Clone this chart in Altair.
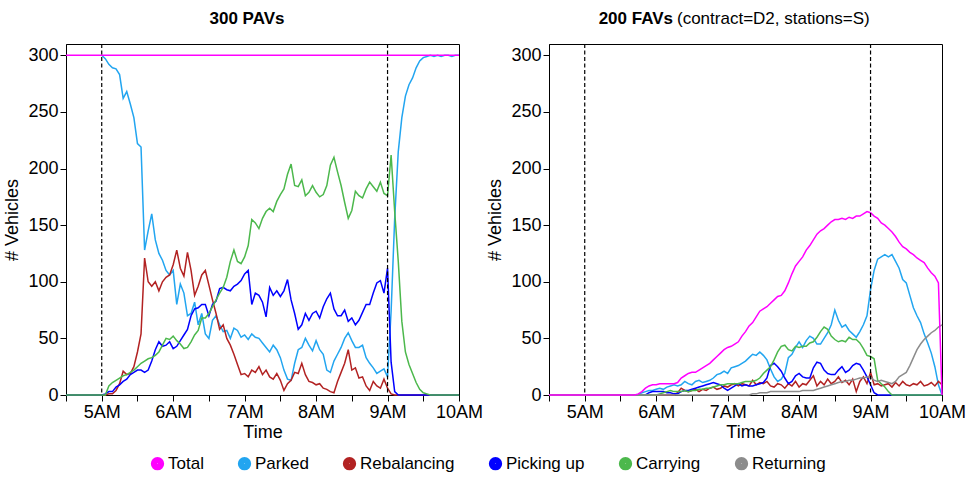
import altair as alt
import pandas as pd

FONT = "Liberation Sans"

# Sampling grid in minutes after 5AM (first entry is 4:30AM)
MINUTES = [-30] + list(range(0, 301, 3))

SERIES = ["Total", "Parked", "Rebalancing", "Picking up", "Carrying", "Returning"]
COLORS = ["#ff00ff", "#22a5f0", "#b22222", "#0000ff", "#4cb84c", "#8c8c8c"]

# ---- 300 PAVs ----
PAV_TOTAL_MINUTES = [-30, 300]
PAV_TOTAL = [300, 300]

PAV_PARKED = [
    None,
    300, 297, 292, 289, 288, 283, 262, 268, 257, 245,
    222, 219, 128, 145, 160, 137, 125, 119, 110, 106,
    110, 80, 98, 90, 70, 72, 82, 62, 72, 54,
    50, 66, 70, 62, 56, 57, 50, 59, 57, 51,
    53, 49, 54, 51, 50, 46, 42, 38, 44, 40,
    33, 22, 14, 13, 28, 40, 42, 50, 44, 39,
    48, 40, 36, 22, 20, 30, 36, 42, 50, 55,
    48, 42, 42, 44, 33, 28, 24, 19, 21, 23,
    16, 74, 156, 215, 245, 264, 274, 280, 289, 295,
    298, 299, 300, 299, 300, 299, 300, 300, 299, 300,
    300,
]

PAV_REBALANCING = [
    0,
    0, 0, 1, 1, 4, 10, 21, 18, 19, 25,
    38, 54, 121, 100, 96, 100, 92, 100, 104, 106,
    115, 128, 112, 105, 126, 110, 88, 96, 106, 110,
    97, 84, 72, 58, 62, 50, 44, 36, 27, 18,
    19, 16, 22, 20, 25, 18, 22, 16, 14, 19,
    13, 4, 10, 13, 20, 19, 28, 18, 12, 11,
    9, 10, 6, 5, 3, 2, 12, 20, 28, 40,
    22, 24, 15, 16, 8, 4, 12, 8, 6, 14,
    6, 1, 0, 0, 0, 0, 0, 0, 0, 0,
    0, 0, 0, 0, 0, 0, 0, 0, 0, 0,
    0,
]

PAV_PICKING_UP = [
    0,
    0, 1, 3, 3, 7, 9, 12, 14, 18, 20,
    22, 22, 20, 22, 30, 40, 47, 43, 44, 47,
    41, 43, 48, 53, 58, 70, 76, 77, 80, 80,
    70, 80, 83, 94, 95, 93, 92, 96, 98, 101,
    107, 110, 80, 90, 88, 82, 69, 95, 88, 92,
    87, 92, 102, 84, 72, 58, 62, 72, 66, 72,
    74, 68, 78, 85, 90, 76, 70, 70, 75, 65,
    68, 62, 66, 73, 80, 80, 90, 99, 101, 90,
    112, 29, 3, 0, 0, 0, 0, 0, 0, 0,
    0, 0, 0, 0, 0, 0, 0, 0, 0, 0,
    0,
]

PAV_CARRYING = [
    0,
    0, 0, 8, 11, 13, 15, 17, 18, 20, 22,
    25, 28, 30, 32, 33, 35, 38, 44, 50, 49,
    52, 48, 45, 41, 42, 47, 53, 57, 68, 68,
    72, 78, 84, 90, 95, 104, 118, 128, 118, 116,
    122, 132, 155, 152, 147, 156, 162, 165, 162, 171,
    177, 182, 195, 204, 185, 184, 190, 176, 179, 185,
    179, 175, 177, 185, 203, 210, 197, 185, 170, 156,
    163, 180, 176, 174, 182, 188, 184, 180, 188, 178,
    176, 212, 162, 118, 65, 38, 27, 19, 11, 5,
    2, 1, 0, 0, 0, 0, 0, 0, 0, 0,
    0,
]

# ---- 200 FAVs (contract=D2, stations=S) ----
FAV_TOTAL = [
    0,
    0, 0, 0, 0, 0, 0, 0, 0, 0, 0,
    0, 0, 0, 0, 0, 1, 3, 6, 8, 9,
    9, 10, 10, 10, 10, 10, 11, 15, 17, 19,
    20, 20, 22, 24, 26, 28, 31, 34, 37, 40,
    42, 43, 45, 47, 52, 56, 61, 64, 69, 74,
    76, 78, 81, 84, 87, 88, 92, 99, 107, 114,
    118, 122, 128, 132, 137, 142, 145, 147, 150, 153,
    155, 155, 156, 155, 157, 156, 158, 158, 160, 162,
    161, 158, 156, 152, 150, 147, 144, 140, 135, 131,
    129, 126, 124, 121, 119, 117, 112, 108, 105, 99,
    0,
]

FAV_PARKED = [
    0,
    0, 0, 0, 0, 0, 0, 0, 0, 0, 0,
    0, 0, 0, 0, 0, 0, 2, 3, 4, 4,
    5, 6, 5, 7, 8, 9, 8, 9, 12, 10,
    9, 12, 13, 11, 12, 13, 15, 18, 19, 21,
    19, 24, 25, 26, 28, 30, 33, 36, 35, 38,
    35, 31, 23, 16, 12, 14, 19, 33, 36, 42,
    47, 42, 48, 52, 50, 45, 45, 50, 55, 62,
    75, 66, 60, 62, 57, 54, 51, 56, 62, 70,
    93, 110, 120, 122, 124, 122, 124, 118, 112, 102,
    99, 88, 77, 70, 64, 54, 46, 37, 25, 9,
    0,
]

FAV_REBALANCING = [
    0,
    0, 0, 0, 0, 0, 0, 0, 0, 0, 0,
    0, 0, 0, 0, 0, 0, 0, 0, 0, 0,
    0, 0, 0, 0, 0, 0, 2, 6, 4, 3,
    4, 5, 3, 5, 4, 6, 7, 5, 6, 8,
    7, 9, 10, 8, 10, 9, 8, 13, 9, 11,
    10, 12, 8, 7, 10, 9, 6, 10, 8, 12,
    7, 10, 9, 13, 17, 8, 12, 9, 14, 10,
    12, 16, 11, 13, 9, 14, 3, 12, 16, 10,
    20, 9, 10, 8, 9, 10, 7, 11, 8, 12,
    9, 8, 10, 9, 12, 8, 9, 11, 8, 12,
    9,
]

FAV_PICKING_UP = [
    0,
    0, 0, 0, 0, 0, 0, 0, 0, 0, 0,
    0, 0, 0, 0, 0, 0, 0, 0, 2, 3,
    3, 3, 3, 2, 2, 1, 1, 3, 4, 4,
    5, 6, 7, 8, 9, 10, 11, 10, 9, 6,
    4, 6, 8, 10, 8, 9, 8, 8, 9, 10,
    11, 15, 26, 28, 25, 21, 15, 10, 12, 17,
    19, 16, 15, 15, 24, 29, 28, 22, 19, 18,
    18, 22, 25, 20, 22, 26, 28, 27, 22, 16,
    9, 2, 0, 0, 0, 0, 0, 0, 0, 0,
    0, 0, 0, 0, 0, 0, 0, 0, 0, 0,
    0,
]

FAV_CARRYING = [
    0,
    0, 0, 0, 0, 0, 0, 0, 0, 0, 0,
    0, 0, 0, 0, 0, 0, 0, 0, 0, 0,
    0, 1, 2, 3, 4, 3, 3, 3, 4, 3,
    4, 4, 5, 5, 6, 6, 7, 8, 9, 9,
    10, 10, 10, 10, 11, 12, 12, 12, 13, 15,
    19, 22, 25, 31, 38, 43, 44, 40, 39, 43,
    42, 43, 43, 46, 47, 51, 56, 60, 58, 52,
    49, 47, 48, 47, 51, 49, 49, 46, 41, 35,
    34, 32, 13, 10, 7, 3, 0, 0, 0, 0,
    0, 0, 0, 0, 0, 0, 0, 0, 0, 0,
    0,
]

FAV_RETURNING = [
    0,
    0, 0, 0, 0, 0, 0, 0, 0, 0, 0,
    0, 0, 0, 0, 0, 0, 0, 0, 0, 0,
    0, 0, 0, 0, 0, 0, 0, 0, 0, 0,
    0, 0, 0, 0, 0, 0, 0, 0, 0, 0,
    0, 0, 0, 0, 0, 0, 0, 1, 1, 2,
    2, 2, 3, 3, 3, 3, 3, 3, 3, 3,
    3, 4, 4, 4, 4, 5, 6, 7, 8, 9,
    10, 11, 12, 12, 13, 13, 14, 15, 15, 16,
    16, 13, 12, 13, 12, 11, 10, 12, 16, 18,
    20, 26, 33, 40, 45, 49, 52, 55, 57, 60,
    62,
]

# Dashed markers at 5AM and 9AM
MARKER_HOURS = [5, 9]
X_TICKS = [4.5, 5, 5.5, 6, 6.5, 7, 7.5, 8, 8.5, 9, 9.5, 10]
Y_TICKS = [0, 50, 100, 150, 200, 250, 300]


def series_frame(name, minutes, values):
    return pd.DataFrame({
        "series": name,
        "hour": [5 + m / 60 for m in minutes],
        "value": values,
    })


pav = pd.concat([
    series_frame("Total", PAV_TOTAL_MINUTES, PAV_TOTAL),
    series_frame("Parked", MINUTES, PAV_PARKED),
    series_frame("Rebalancing", MINUTES, PAV_REBALANCING),
    series_frame("Picking up", MINUTES, PAV_PICKING_UP),
    series_frame("Carrying", MINUTES, PAV_CARRYING),
], ignore_index=True).dropna()

fav = pd.concat([
    series_frame("Total", MINUTES, FAV_TOTAL),
    series_frame("Parked", MINUTES, FAV_PARKED),
    series_frame("Rebalancing", MINUTES, FAV_REBALANCING),
    series_frame("Picking up", MINUTES, FAV_PICKING_UP),
    series_frame("Carrying", MINUTES, FAV_CARRYING),
    series_frame("Returning", MINUTES, FAV_RETURNING),
], ignore_index=True)

x_axis = alt.Axis(
    values=X_TICKS,
    labelExpr="floor(datum.value) == datum.value ? floor(datum.value) + 'AM' : ''",
    labelFlush=False,
    labelOverlap=False,
    labelPadding=2,
    titlePadding=2,
    grid=False,
)
x_enc = alt.X(
    "hour:Q",
    scale=alt.Scale(domain=[4.5, 10], nice=False, zero=False),
    axis=x_axis,
    title="Time",
)
y_enc = alt.Y(
    "value:Q",
    scale=alt.Scale(domain=[0, 310], nice=False),
    axis=alt.Axis(values=Y_TICKS, labelPadding=2, titlePadding=6, grid=False),
    title="# Vehicles",
)
color_enc = alt.Color(
    "series:N",
    scale=alt.Scale(domain=SERIES, range=COLORS),
    legend=alt.Legend(
        title=None,
        orient="none",
        legendX=83,
        legendY=411,
        direction="horizontal",
        symbolType="circle",
        symbolSize=40,
        symbolStrokeWidth=7,
        labelFont=FONT,
        labelFontSize=17,
        labelColor="black",
        labelOffset=2,
        columnPadding=23,
    ),
)

W, H = 393, 351


def panel(df, titles):
    base = alt.Chart(df).mark_line(strokeWidth=1.5).encode(
        x=x_enc, y=y_enc, color=color_enc, detail="series:N"
    )
    # state series first, the fleet total drawn over them
    states = base.transform_filter(alt.datum.series != "Total")
    total = base.transform_filter(alt.datum.series == "Total")
    rules = alt.Chart(pd.DataFrame({"hour": MARKER_HOURS})).mark_rule(
        color="black", strokeDash=[4, 2.5], strokeWidth=1.2
    ).encode(x=alt.X("hour:Q", axis=x_axis, title="Time"))
    return alt.layer(states, total, rules, *titles).properties(width=W, height=H)


def title_text(text, x, align, weight):
    return alt.Chart(pd.DataFrame({"t": [text]})).mark_text(
        font=FONT, fontSize=17, fontWeight=weight, align=align,
        baseline="middle", color="black",
    ).encode(text="t:N", x=alt.value(x), y=alt.value(-25))


left = panel(pav, [title_text("300 PAVs", 181, "center", "bold")])
right = panel(fav, [
    title_text("200 FAVs", 124, "right", "bold"),
    title_text("(contract=D2, stations=S)", 128, "left", "normal"),
])

chart = alt.hconcat(left, right, spacing=2).properties(
    padding={"left": 3, "top": 9, "right": 2, "bottom": 5},
    background="white",
).configure_view(
    stroke="black", strokeWidth=1
).configure_axis(
    grid=False,
    domainColor="black",
    tickColor="black",
    tickSize=6,
    labelColor="black",
    titleColor="black",
    labelFont=FONT,
    titleFont=FONT,
    labelFontSize=18,
    titleFontSize=18,
    titleFontWeight="normal",
)

chart.save("out.html", embed_options={"renderer": "svg", "actions": False})
